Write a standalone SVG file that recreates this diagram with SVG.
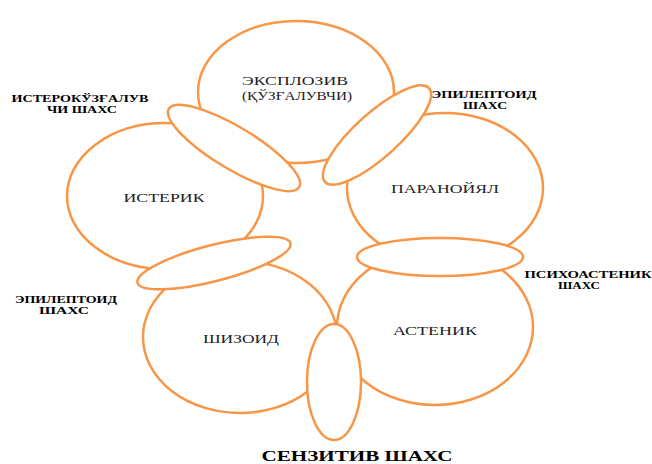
<svg xmlns="http://www.w3.org/2000/svg" width="652" height="464" viewBox="0 0 652 464">
<style>
.c{fill:#fff;stroke:#F79646;stroke-width:2.5}
.t{font-family:"Liberation Serif","Times New Roman",serif;font-size:12.5px;fill:#222;text-anchor:middle}
.b{font-family:"Liberation Serif","Times New Roman",serif;font-size:10.5px;font-weight:bold;fill:#000;text-anchor:middle}
.s{font-family:"Liberation Serif","Times New Roman",serif;font-size:15.5px;font-weight:bold;fill:#000;text-anchor:middle}
</style>
<rect width="652" height="464" fill="#fff"/>
<g id="explosive">
<ellipse class="c" cx="296" cy="92" rx="98" ry="71"/>
<text class="t" x="295" y="85" textLength="106" lengthAdjust="spacingAndGlyphs">ЭКСПЛОЗИВ</text>
<text class="t" x="297" y="100" textLength="110" lengthAdjust="spacingAndGlyphs">(ҚЎЗҒАЛУВЧИ)</text>
</g>
<g id="isterik">
<ellipse class="c" cx="165" cy="196" rx="98" ry="73"/>
<text class="t" x="164" y="202" textLength="81" lengthAdjust="spacingAndGlyphs">ИСТЕРИК</text>
</g>
<g id="paranoyal">
<ellipse class="c" cx="445" cy="188" rx="98" ry="75"/>
<text class="t" x="445" y="193" textLength="108" lengthAdjust="spacingAndGlyphs">ПАРАНОЙЯЛ</text>
</g>
<g id="shizoid">
<ellipse class="c" cx="240" cy="337" rx="97" ry="76"/>
<text class="t" x="241" y="343" textLength="76" lengthAdjust="spacingAndGlyphs">ШИЗОИД</text>
</g>
<g id="astenik">
<ellipse class="c" cx="435" cy="327" rx="98" ry="78"/>
<text class="t" x="435" y="335" textLength="84" lengthAdjust="spacingAndGlyphs">АСТЕНИК</text>
</g>
<g id="isterokuzgaluvchi">
<ellipse class="c" cx="234" cy="148" rx="76" ry="21" transform="rotate(31 234 148)"/>
<text class="b" x="80" y="101.5" textLength="137" lengthAdjust="spacingAndGlyphs">ИСТЕРОКЎЗҒАЛУВ</text>
<text class="b" x="82" y="112.5" textLength="70" lengthAdjust="spacingAndGlyphs">ЧИ ШАХС</text>
</g>
<g id="epileptoid-top">
<ellipse class="c" cx="377" cy="135" rx="70" ry="22" transform="rotate(-42 377 135)"/>
<text class="b" x="484" y="98" textLength="105" lengthAdjust="spacingAndGlyphs">ЭПИЛЕПТОИД</text>
<text class="b" x="485" y="109" textLength="44" lengthAdjust="spacingAndGlyphs">ШАХС</text>
</g>
<g id="epileptoid-left">
<ellipse class="c" cx="214" cy="263" rx="79" ry="18" transform="rotate(-14.5 214 263)"/>
<text class="b" x="66" y="303" textLength="102" lengthAdjust="spacingAndGlyphs">ЭПИЛЕПТОИД</text>
<text class="b" x="64" y="314" textLength="50" lengthAdjust="spacingAndGlyphs">ШАХС</text>
</g>
<g id="psixoastenik">
<ellipse class="c" cx="440" cy="257" rx="83" ry="19"/>
<text class="b" x="588" y="278" textLength="127" lengthAdjust="spacingAndGlyphs">ПСИХОАСТЕНИК</text>
<text class="b" x="579" y="289" textLength="42" lengthAdjust="spacingAndGlyphs">ШАХС</text>
</g>
<g id="senzitiv">
<ellipse class="c" cx="334" cy="382" rx="27" ry="58"/>
<text class="s" x="357" y="461" textLength="191" lengthAdjust="spacingAndGlyphs">СЕНЗИТИВ ШАХС</text>
</g>
</svg>
